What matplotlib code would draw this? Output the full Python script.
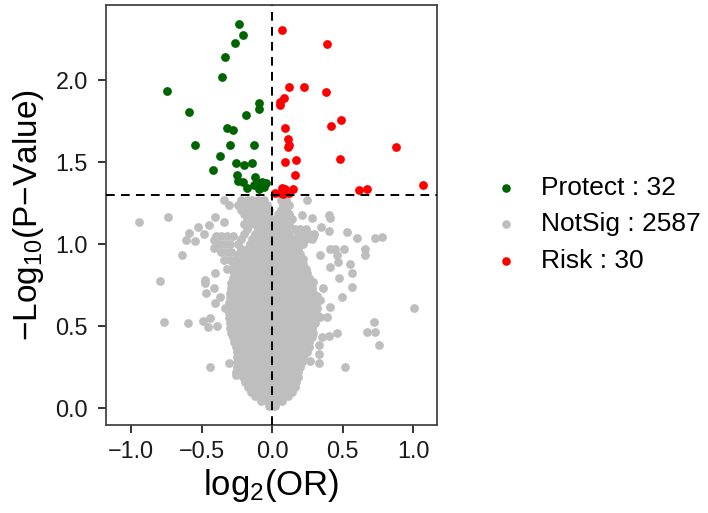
import matplotlib
matplotlib.use("Agg")
import matplotlib.pyplot as plt
from matplotlib.lines import Line2D
import numpy as np

plt.rcParams['font.family'] = ['Liberation Sans', 'DejaVu Sans']
plt.rcParams['mathtext.fontset'] = 'custom'
plt.rcParams['mathtext.rm'] = 'Liberation Sans'
plt.rcParams['mathtext.it'] = 'Liberation Sans'

# ---------------- data ----------------
protect_x = [-0.239, -0.208, -0.267, -0.338, -0.355, -0.747, -0.593, -0.094, -0.094, -0.184,
             -0.319, -0.281, -0.551, -0.298, -0.132, -0.374, -0.423, -0.258, -0.199, -0.140,
             -0.251, -0.241, -0.208, -0.180, -0.121, -0.109, -0.090, -0.045, -0.070, -0.132,
             -0.097, -0.061]
protect_y = [2.341, 2.276, 2.224, 2.138, 2.020, 1.935, 1.803, 1.862, 1.825, 1.785,
             1.709, 1.697, 1.606, 1.606, 1.606, 1.539, 1.453, 1.492, 1.480, 1.492,
             1.421, 1.386, 1.380, 1.340, 1.410, 1.380, 1.360, 1.370, 1.380, 1.360,
             1.333, 1.349]

risk_x = [0.069, 0.388, 0.116, 0.229, 0.383, 0.083, 0.057, 0.052, 0.487, 0.416,
          0.094, 0.111, 0.116, 0.113, 0.879, 0.094, 0.170, 0.480, 0.163, 1.069,
          0.615, 0.672, 0.021, 0.069, 0.083, 0.147, 0.116, 0.062, 0.076, 0.090]
risk_y = [2.305, 2.217, 1.959, 1.959, 1.929, 1.888, 1.868, 1.848, 1.756, 1.722,
          1.709, 1.642, 1.604, 1.590, 1.591, 1.502, 1.510, 1.518, 1.421, 1.362,
          1.331, 1.335, 1.313, 1.340, 1.320, 1.333, 1.313, 1.310, 1.305, 1.335]

# scattered non-significant points away from the core
gray_out_x = [-0.943, -0.742, -0.794, -0.766, -0.596, -0.641, -0.615, -0.593, -0.551, -0.527,
              -0.494, -0.456, -0.444, -0.440, -0.392, -0.310, -0.258, -0.255, -0.487, -0.452,
              -0.404, -0.345, -0.340, -0.310, -0.416, -0.411, -0.475, -0.475, -0.409, -0.468,
              -0.416, -0.404, -0.333, -0.369,
              -0.40, -0.36, -0.32, -0.28, -0.38, -0.34, -0.30, -0.36, -0.32, -0.29,
              -0.34, -0.30, -0.32,
              1.009, 0.778, 0.730, 0.600, 0.530, 0.660, 0.660, 0.553, 0.570, 0.565,
              0.473, 0.494, 0.513, 0.463, 0.466, 0.447, 0.407, 0.407, 0.340, 0.400,
              0.407, 0.348, 0.402, 0.284, 0.210, 0.246, 0.293, 0.293, 0.362, 0.317,
              0.340, 0.407, 0.388, 0.459, 0.400, 0.352, 0.723, 0.671, 0.730, 0.759,
              0.520, 0.331, 0.331, 0.265, 0.329, 0.305, 0.270, 0.340,
              0.22, 0.26, 0.30, 0.28, 0.20, 0.24]
gray_out_y = [1.132, 1.167, 0.774, 0.524, 0.516, 0.933, 1.024, 1.069, 1.018, 1.106,
              0.530, 0.496, 0.547, 0.252, 0.500, 0.272, 0.222, 0.201, 1.059, 1.116,
              1.163, 1.132, 1.268, 1.238, 1.024, 0.974, 0.780, 0.760, 0.821, 0.699,
              0.730, 0.638, 0.608, 0.679,
              1.05, 1.05, 1.05, 1.05, 1.00, 1.00, 1.00, 0.95, 0.95, 0.95,
              0.90, 0.90, 0.85,
              0.608, 1.041, 1.035, 1.035, 1.071, 0.967, 0.933, 0.878, 0.825, 0.740,
              0.791, 0.675, 0.967, 0.933, 0.892, 0.967, 0.967, 0.862, 0.933, 1.177,
              1.157, 1.102, 1.079, 1.161, 1.177, 1.268, 1.045, 0.770, 0.734, 0.683,
              0.659, 0.618, 0.557, 0.455, 0.439, 0.435, 0.526, 0.465, 0.465, 0.384,
              0.252, 0.272, 0.327, 0.289, 0.384, 0.516, 0.567, 0.557,
              1.06, 1.06, 1.06, 1.03, 1.09, 1.09]

# dense core of non-significant points, read row by row (y level, x values)
gray_core_rows = [
    (0.01, [-0.02, 0.0, 0.02]),
    (0.04, [-0.08, -0.04, 0.0, 0.04, 0.07]),
    (0.07, [-0.12, -0.08, -0.04, 0.0, 0.04, 0.08, 0.11]),
    (0.10, [-0.15, -0.10, -0.06, -0.02, 0.02, 0.06, 0.10, 0.14]),
    (0.13, [-0.17, -0.12, -0.08, -0.04, 0.0, 0.04, 0.08, 0.12, 0.16]),
    (0.16, [-0.19, -0.14, -0.10, -0.06, -0.02, 0.02, 0.06, 0.10, 0.14, 0.17]),
    (0.19, [-0.21, -0.16, -0.12, -0.08, -0.04, 0.0, 0.04, 0.08, 0.12, 0.16, 0.18]),
    (0.22, [-0.23, -0.18, -0.14, -0.10, -0.06, -0.02, 0.02, 0.06, 0.10, 0.14, 0.18]),
    (0.25, [-0.25, -0.20, -0.16, -0.12, -0.08, -0.04, 0.0, 0.04, 0.08, 0.12, 0.16, 0.20]),
    (0.28, [-0.25, -0.22, -0.18, -0.14, -0.10, -0.06, -0.02, 0.02, 0.06, 0.10, 0.14, 0.18, 0.21]),
    (0.31, [-0.25, -0.20, -0.16, -0.12, -0.08, -0.04, 0.0, 0.04, 0.08, 0.12, 0.16, 0.20, 0.22]),
    (0.34, [-0.25, -0.22, -0.18, -0.14, -0.10, -0.06, -0.02, 0.02, 0.06, 0.10, 0.14, 0.18, 0.22, 0.25]),
    (0.37, [-0.26, -0.20, -0.16, -0.12, -0.08, -0.04, 0.0, 0.04, 0.08, 0.12, 0.16, 0.20, 0.24, 0.26]),
    (0.40, [-0.27, -0.22, -0.18, -0.14, -0.10, -0.06, -0.02, 0.02, 0.06, 0.10, 0.14, 0.18, 0.22, 0.26]),
    (0.43, [-0.28, -0.24, -0.20, -0.16, -0.12, -0.08, -0.04, 0.0, 0.04, 0.08, 0.12, 0.16, 0.20, 0.24, 0.28]),
    (0.46, [-0.29, -0.26, -0.22, -0.18, -0.14, -0.10, -0.06, -0.02, 0.02, 0.06, 0.10, 0.14, 0.18, 0.22, 0.26, 0.29]),
    (0.49, [-0.30, -0.28, -0.24, -0.20, -0.16, -0.12, -0.08, -0.04, 0.0, 0.04, 0.08, 0.12, 0.16, 0.20, 0.24, 0.28]),
    (0.52, [-0.30, -0.26, -0.22, -0.18, -0.14, -0.10, -0.06, -0.02, 0.02, 0.06, 0.10, 0.14, 0.18, 0.22, 0.26, 0.30]),
    (0.55, [-0.31, -0.28, -0.24, -0.20, -0.16, -0.12, -0.08, -0.04, 0.0, 0.04, 0.08, 0.12, 0.16, 0.20, 0.24, 0.28, 0.31]),
    (0.58, [-0.31, -0.26, -0.22, -0.18, -0.14, -0.10, -0.06, -0.02, 0.02, 0.06, 0.10, 0.14, 0.18, 0.22, 0.26, 0.31]),
    (0.61, [-0.31, -0.28, -0.24, -0.20, -0.16, -0.12, -0.08, -0.04, 0.0, 0.04, 0.08, 0.12, 0.16, 0.20, 0.24, 0.28, 0.32]),
    (0.64, [-0.31, -0.26, -0.22, -0.18, -0.14, -0.10, -0.06, -0.02, 0.02, 0.06, 0.10, 0.14, 0.18, 0.22, 0.26, 0.31]),
    (0.67, [-0.30, -0.28, -0.24, -0.20, -0.16, -0.12, -0.08, -0.04, 0.0, 0.04, 0.08, 0.12, 0.16, 0.20, 0.24, 0.28, 0.30]),
    (0.70, [-0.30, -0.26, -0.22, -0.18, -0.14, -0.10, -0.06, -0.02, 0.02, 0.06, 0.10, 0.14, 0.18, 0.22, 0.26, 0.29]),
    (0.73, [-0.29, -0.24, -0.20, -0.16, -0.12, -0.08, -0.04, 0.0, 0.04, 0.08, 0.12, 0.16, 0.20, 0.24, 0.28]),
    (0.76, [-0.29, -0.26, -0.22, -0.18, -0.14, -0.10, -0.06, -0.02, 0.02, 0.06, 0.10, 0.14, 0.18, 0.22, 0.27]),
    (0.79, [-0.28, -0.24, -0.20, -0.16, -0.12, -0.08, -0.04, 0.0, 0.04, 0.08, 0.12, 0.16, 0.20, 0.24, 0.26]),
    (0.82, [-0.27, -0.22, -0.18, -0.14, -0.10, -0.06, -0.02, 0.02, 0.06, 0.10, 0.14, 0.18, 0.22, 0.25]),
    (0.85, [-0.28, -0.24, -0.20, -0.16, -0.12, -0.08, -0.04, 0.0, 0.04, 0.08, 0.12, 0.16, 0.20, 0.24]),
    (0.88, [-0.27, -0.22, -0.18, -0.14, -0.10, -0.06, -0.02, 0.02, 0.06, 0.10, 0.14, 0.18, 0.22]),
    (0.91, [-0.26, -0.22, -0.18, -0.14, -0.10, -0.06, -0.02, 0.02, 0.06, 0.10, 0.14, 0.18, 0.22]),
    (0.94, [-0.24, -0.20, -0.16, -0.12, -0.08, -0.04, 0.0, 0.04, 0.08, 0.12, 0.16, 0.20]),
    (0.97, [-0.22, -0.18, -0.14, -0.10, -0.06, -0.02, 0.02, 0.06, 0.10, 0.14, 0.18]),
    (1.00, [-0.24, -0.16, -0.12, -0.08, -0.04, 0.0, 0.04, 0.08, 0.12, 0.16, 0.22]),
    (1.03, [-0.22, -0.14, -0.10, -0.06, -0.02, 0.02, 0.06, 0.10, 0.14, 0.20, 0.24]),
    (1.06, [-0.20, -0.12, -0.08, -0.04, 0.0, 0.04, 0.08, 0.12, 0.18]),
    (1.09, [-0.18, -0.10, -0.06, -0.02, 0.02, 0.06, 0.10, 0.16]),
    (1.12, [-0.20, -0.16, -0.12, -0.08, -0.04, 0.0, 0.04, 0.08, 0.12]),
    (1.15, [-0.18, -0.14, -0.10, -0.06, -0.02, 0.02, 0.06, 0.10, 0.14]),
    (1.18, [-0.20, -0.16, -0.12, -0.08, -0.04, 0.04, 0.08, 0.12]),
    (1.21, [-0.22, -0.18, -0.14, -0.10, -0.06, -0.02, 0.06, 0.10]),
    (1.24, [-0.24, -0.20, -0.16, -0.12, -0.08, -0.04, 0.08, 0.12]),
    (1.27, [-0.22, -0.18, -0.14, -0.10, -0.06, 0.06, 0.10]),
]

legend_names = ["Protect", "NotSig", "Risk"]
legend_counts = [32, 2587, 30]
colors = ["#006400", "#BEBEBE", "#FF0000"]

x_ticks = [-1.0, -0.5, 0.0, 0.5, 1.0]
y_ticks = [0.0, 0.5, 1.0, 1.5, 2.0]
p_threshold_line = 1.3
or_line = 0.0

# ---------------- plot ----------------
core_x = [x for y, xs in gray_core_rows for x in xs]
core_y = [y for y, xs in gray_core_rows for x in xs]
gray_x = core_x + gray_out_x
gray_y = core_y + gray_out_y

W, H = 708, 513
fig = plt.figure(figsize=(W / 100, H / 100), dpi=100)
ax = fig.add_axes([106 / W, 1 - 425 / H, (437 - 106) / W, (425 - 5) / H])

ms = 40
ax.scatter(gray_x, gray_y, s=ms, c=colors[1], linewidths=0, zorder=2)
ax.scatter(protect_x, protect_y, s=ms, c=colors[0], linewidths=0, zorder=3)
ax.scatter(risk_x, risk_y, s=ms, c=colors[2], linewidths=0, zorder=3)

ax.axhline(p_threshold_line, color='black', lw=1.4, dashes=(4.5, 3.2), zorder=4)
ax.axvline(or_line, color='black', lw=1.4, dashes=(4.5, 3.2), zorder=4)

ax.set_xlim(-1.18, 1.17)
ax.set_ylim(-0.104, 2.457)
ax.set_xticks(x_ticks)
ax.set_yticks(y_ticks)
ax.set_xticklabels([f"{v:.1f}".replace('-', '\u2212') for v in x_ticks])
ax.set_yticklabels([f"{v:.1f}" for v in y_ticks])
ax.tick_params(axis='both', length=6, width=1.4, color='#333333',
               labelsize=16.8, labelcolor='#1a1a1a')
ax.tick_params(axis='x', pad=4.5)
ax.tick_params(axis='y', pad=7)
for sp in ax.spines.values():
    sp.set_color('#444444')
    sp.set_linewidth(1.3)

ax.set_xlabel(r'log$_2$(OR)', fontsize=25, labelpad=3)
ax.set_ylabel('\u2212Log$_{10}$(P\u2212Value)', fontsize=24, labelpad=7)

# legend (manually placed, like ggplot's right-side legend)
leg_y = [188, 224, 261]
for name, cnt, col, yy in zip(legend_names, legend_counts, colors, leg_y):
    fig.add_artist(Line2D([506 / W], [1 - yy / H], marker='o', markersize=6.2,
                          color=col, markeredgewidth=0, linestyle='none',
                          transform=fig.transFigure))
    fig.text(541 / W, 1 - yy / H, f"{name} : {cnt}", fontsize=19,
             va='center', ha='left', color='black')

fig.savefig("out.png", dpi=100)
